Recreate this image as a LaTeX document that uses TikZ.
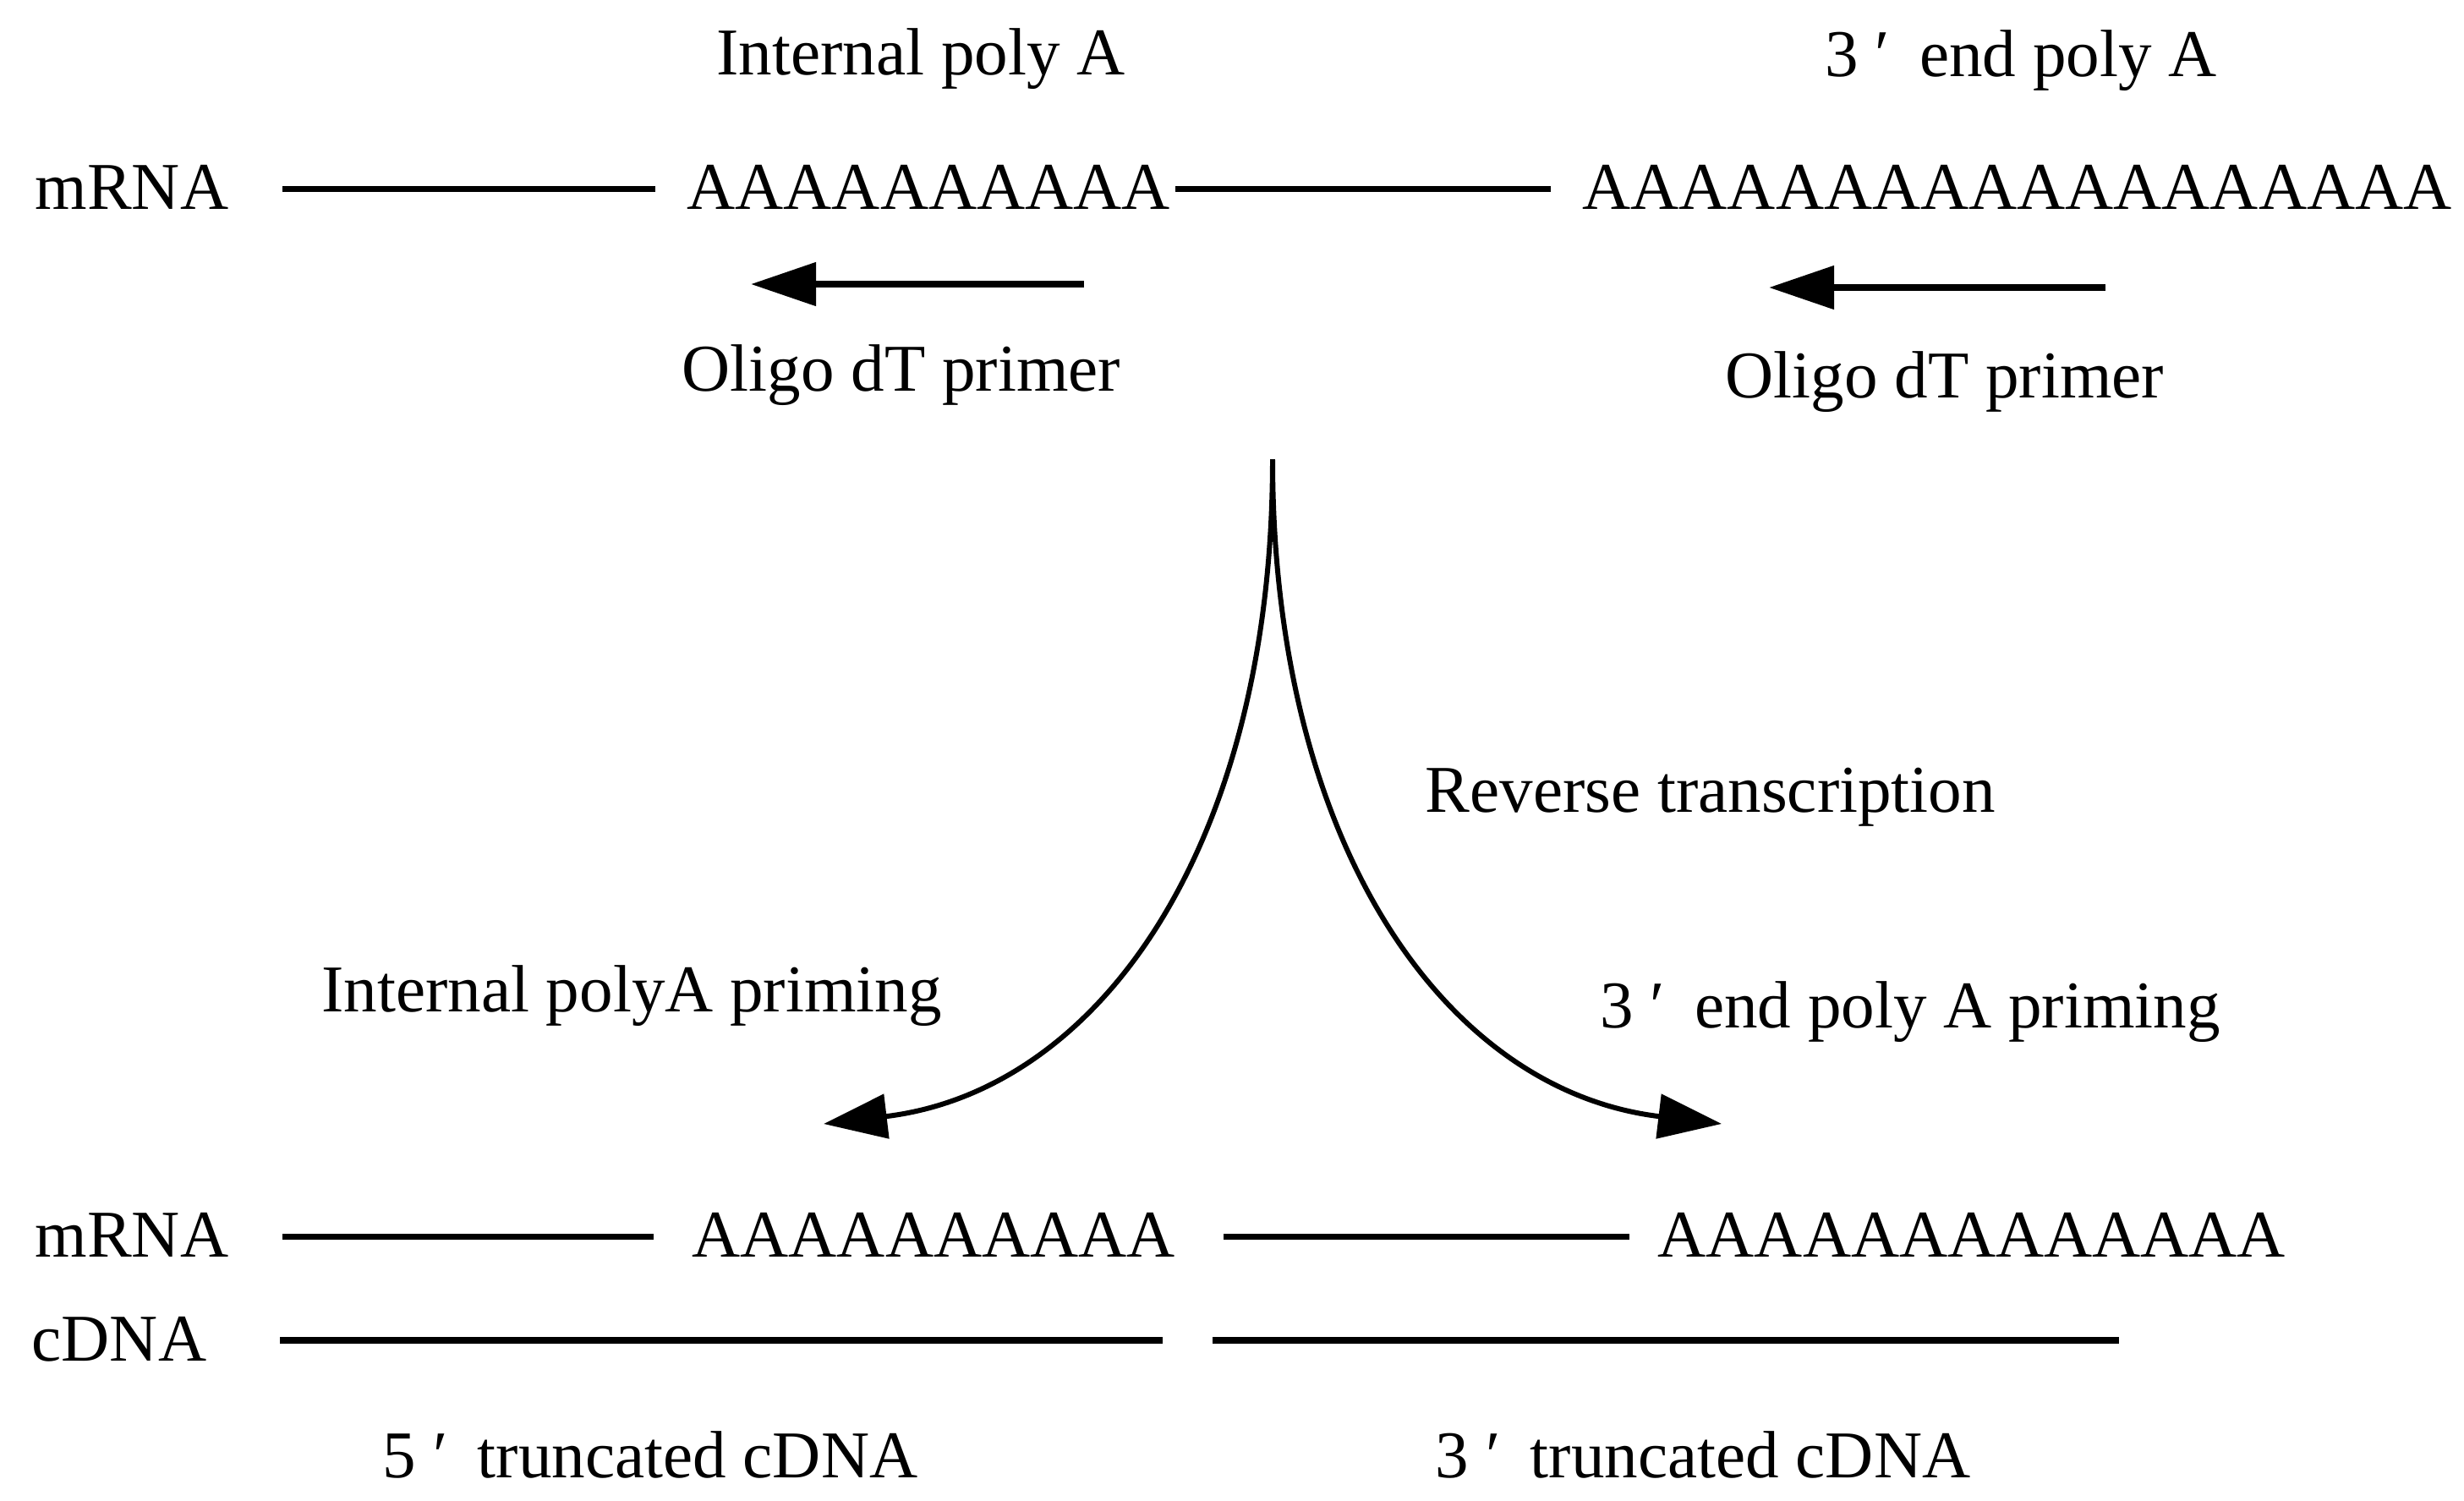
\documentclass[tikz,border=0pt]{standalone}
\usepackage{fontspec}
\setmainfont{Liberation Serif}
\usetikzlibrary{arrows.meta}
\newcommand{\primemark}{\hspace{0.25em}′\hspace{0.45em}}
\tikzset{
  lbl/.style={inner sep=0pt,anchor=base,font=\fontsize{22.5}{27}\selectfont},
  lbll/.style={lbl,anchor=base west},
  strand/.style={line width=2pt},
  cstrand/.style={line width=2.5pt},
  primer/.style={-{Triangle[length=7.7mm,width=5mm]},line width=2.3pt},
  rtarr/.style={-{Triangle[length=7.5mm,width=5.2mm]},line width=1.7pt}
}

\begin{document}
\begin{tikzpicture}[x=1cm,y=1cm]
  \useasboundingbox (0,0) rectangle (29.14,-17.74);

  % --- Haut : ARNm avec poly A interne et poly A en 3' ---
  \node[lbl] (intA) at (10.89,-0.88) {Internal poly A};
  \node[lbl] (endA) at (23.90,-0.90) {3\primemark end poly A};

  \node[lbll] (mrna1) at (0.41,-2.47) {mRNA};
  \node[lbll] (polyA1) at (8.12,-2.47) {AAAAAAAAAA};
  \node[lbll] (polyA2) at (18.71,-2.47) {AAAAAAAAAAAAAAAAAA};
  \coordinate (s1a) at (3.34,-2.23);
  \coordinate (s1b) at (7.75,-2.23);
  \coordinate (s2a) at (13.90,-2.23);
  \coordinate (s2b) at (18.34,-2.23);
  \draw[strand] (s1a)--(s1b);
  \draw[strand] (s2a)--(s2b);

  % amorces oligo dT
  \coordinate (p1a) at (12.82,-3.36);
  \coordinate (p1b) at (8.88,-3.36);
  \coordinate (p2a) at (24.90,-3.40);
  \coordinate (p2b) at (20.92,-3.40);
  \draw[primer] (p1a)--(p1b);
  \draw[primer] (p2a)--(p2b);
  \node[lbl] (oligo1) at (10.66,-4.62) {Oligo dT primer};
  \node[lbl] (oligo2) at (23.00,-4.70) {Oligo dT primer};

  % --- Milieu : transcription inverse ---
  \coordinate (rt0) at (15.05,-5.43);
  \coordinate (tipL) at (9.74,-13.29);
  \coordinate (tipR) at (20.36,-13.29);
  \draw[rtarr] (rt0) .. controls (15.05,-10.0) and (13.0,-12.9) .. (tipL);
  \draw[rtarr] (rt0) .. controls (15.05,-10.0) and (17.1,-12.9) .. (tipR);
  \node[lbll] (rt) at (16.85,-9.60) {Reverse transcription};
  \node[lbl] (primeL) at (7.47,-11.96) {Internal polyA priming};
  \node[lbl] (primeR) at (22.59,-12.15) {3\primemark end poly A priming};

  % --- Bas : ADNc tronques ---
  \node[lbll] (mrna2) at (0.41,-14.86) {mRNA};
  \node[lbll] (polyA3) at (8.18,-14.86) {AAAAAAAAAA};
  \node[lbll] (polyA4) at (19.60,-14.86) {AAAAAAAAAAAAA};
  \coordinate (s3a) at (3.34,-14.62);
  \coordinate (s3b) at (7.73,-14.62);
  \coordinate (s4a) at (14.47,-14.62);
  \coordinate (s4b) at (19.27,-14.62);
  \draw[strand] (s3a)--(s3b);
  \draw[strand] (s4a)--(s4b);

  \node[lbll] (cdna) at (0.37,-16.09) {cDNA};
  \coordinate (c1a) at (3.31,-15.85);
  \coordinate (c1b) at (13.75,-15.85);
  \coordinate (c2a) at (14.34,-15.85);
  \coordinate (c2b) at (25.06,-15.85);
  \draw[cstrand] (c1a)--(c1b);
  \draw[cstrand] (c2a)--(c2b);

  \node[lbl] (trunc5) at (7.69,-17.47) {5\primemark truncated cDNA};
  \node[lbl] (trunc3) at (20.14,-17.47) {3\primemark truncated cDNA};

\end{tikzpicture}
\end{document}
